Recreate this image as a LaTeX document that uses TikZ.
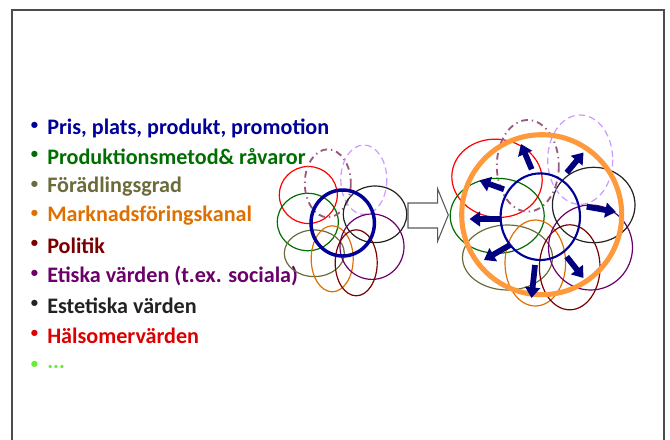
\documentclass[tikz,border=0pt]{standalone}
\usepackage{fontspec}
\setmainfont{Carlito}
\usetikzlibrary{arrows.meta}
\definecolor{cblue}{HTML}{000099}
\definecolor{cgreen}{HTML}{006E00}
\definecolor{colive}{HTML}{6B6B3B}
\definecolor{corange}{HTML}{DD7000}
\definecolor{cdred}{HTML}{7A0000}
\definecolor{cpurple}{HTML}{6A006A}
\definecolor{cblack}{HTML}{222222}
\definecolor{cred}{HTML}{DD0000}
\definecolor{clgreen}{HTML}{66EE33}
\definecolor{cmauve}{HTML}{9A5A80}
\definecolor{clilac}{HTML}{CC99FF}
\definecolor{cbigor}{HTML}{FF9A3C}
\definecolor{cnavy}{HTML}{00007F}
\tikzset{
  item/.style={anchor=west, inner sep=0pt, font=\fontsize{16.6}{19}\selectfont\bfseries},
  bul/.style={anchor=center, inner sep=0pt, font=\fontsize{11}{13}\selectfont\bfseries},
  ring/.style={line width=0.9pt},
  mauvering/.style={line width=1.4pt, color=cmauve, dash pattern=on 5pt off 3pt on 1pt off 3pt},
  lilacring/.style={line width=0.9pt, color=clilac, dash pattern=on 5pt off 3pt},
  outarrow/.style={line width=4.3pt, color=cnavy, -{Triangle[length=8pt,width=11pt]}},
}
\begin{document}
\begin{tikzpicture}[x=0.75pt,y=-0.75pt]
\useasboundingbox (0,0) rectangle (670,439);
% frame
\draw[line width=1.1pt, color=black!70] (12,450) -- (12,10) -- (664,10) -- (664,450);
% text list
\foreach \yy/\col/\txt [count=\i] in {
  128/cblue/{Pris, plats, produkt, promotion},
  157/cgreen/{Produktionsmetod\& råvaror},
  187/colive/{Förädlingsgrad},
  216/corange/{Marknadsföringskanal},
  246/cdred/{Politik},
  276/cpurple/{Etiska värden (t.ex. sociala)},
  306/cblack/{Estetiska värden},
  336/cred/{Hälsomervärden},
  367/clgreen/{...}}
{
  \node[bul, text=\col] (b\i) at (34.5,\yy-2) {•};
  \node[item, text=\col] (t\i) at (47,\yy) {\txt};
}
% left cluster
\draw[ring, red] (308.3,195) ellipse (29 and 28.5);
\draw[ring, cgreen] (307.8,222) ellipse (30.5 and 28.7);
\draw[ring, colive] (314.3,253.3) ellipse (30 and 23.3);
\draw[ring, corange] (332.2,258.8) ellipse (21 and 33);
\draw[mauvering] (327.8,183.3) ellipse (23 and 34);
\draw[lilacring] (363.8,179.7) ellipse (23 and 34.7);
\draw[ring, cblack] (375,214.3) ellipse (31.7 and 28.3);
\draw[ring, cpurple] (372,246.7) ellipse (32 and 32.7);
\draw[ring, cdred] (356.2,262.8) ellipse (21 and 33);
\draw[line width=2.6pt, cblue] (342.7,223) ellipse (31.7 and 33);
% block arrow
\draw[line width=0.8pt, color=black!65, fill=white]
  (408,203) -- (437.7,203) -- (437.7,189) -- (448.3,215) -- (437.7,241) -- (437.7,228) -- (408,228) -- cycle;
% right cluster
\draw[ring, red, rotate around={-8:(497,178.3)}] (497,178.3) ellipse (45.3 and 39);
\draw[ring, cgreen] (497.2,215.8) ellipse (47 and 37.5);
\draw[ring, colive] (507.5,257.5) ellipse (45 and 32.5);
\draw[ring, corange] (535.3,263) ellipse (30.3 and 43);
\draw[ring, cdred] (569.7,267.3) ellipse (30.3 and 42.5);
\draw[ring, cpurple] (590.5,247.5) ellipse (42 and 42.5);
\draw[ring, cblack] (593.7,205) ellipse (41.3 and 37.7);
\draw[lilacring] (580.2,159.7) ellipse (32.5 and 44.7);
\draw[mauvering] (527.8,165.8) ellipse (31 and 45.8);
\draw[line width=3.8pt, cbigor] (541.7,214.7) circle (80);
\draw[line width=1.6pt, cblue] (540.3,216.7) ellipse (39.7 and 43.3);
% arrows
\draw[outarrow] (531.7,169.3) -- (521,144);
\draw[outarrow] (566.7,172.7) -- (583.5,152.5);
\draw[outarrow] (504,189.3) -- (479.5,180.5);
\draw[outarrow] (500,219) -- (469.5,219);
\draw[outarrow] (586.7,206.7) -- (616,212);
\draw[outarrow] (510,245) -- (484,260);
\draw[outarrow] (535,265) -- (531.5,298);
\draw[outarrow] (566.7,256.7) -- (583.5,278);
\end{tikzpicture}
\end{document}
